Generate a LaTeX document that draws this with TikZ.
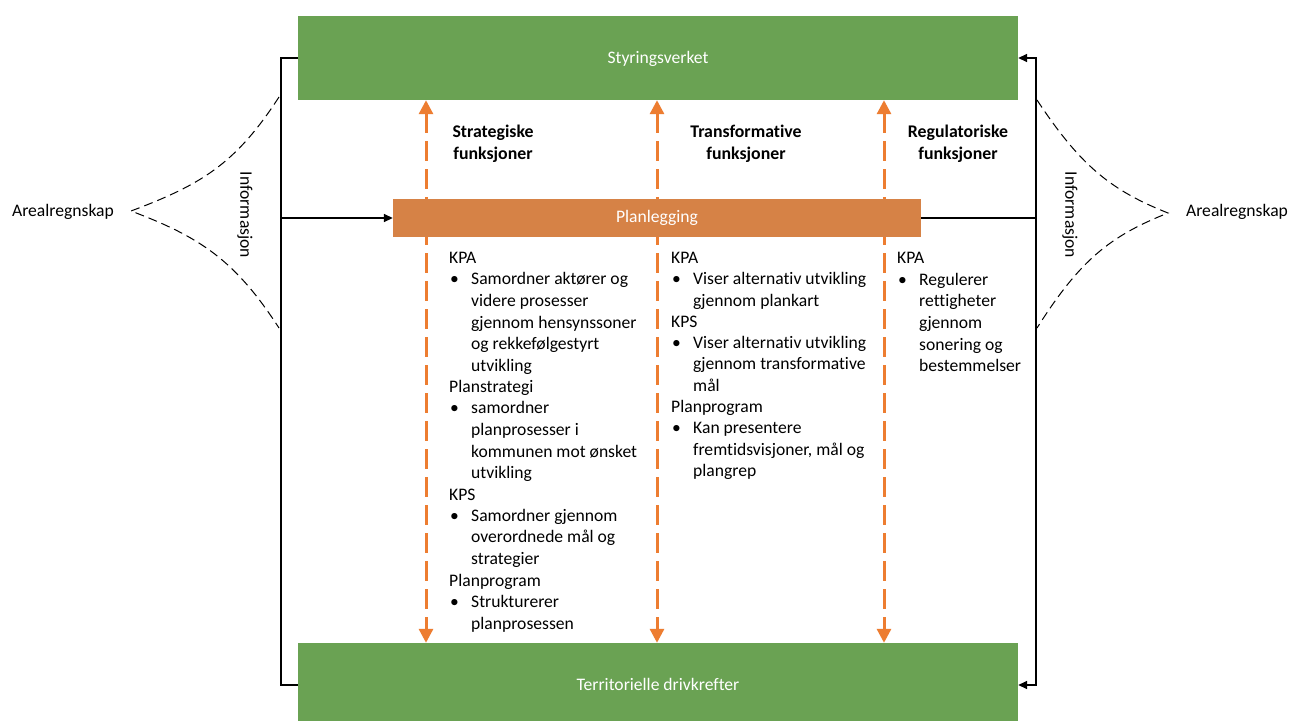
\documentclass[tikz,border=0pt]{standalone}
\usepackage{fontspec}
\setmainfont{Carlito}[Ligatures=NoCommon]
\usetikzlibrary{arrows.meta}
\definecolor{grn}{RGB}{106,162,83}
\definecolor{org}{RGB}{214,130,70}
\definecolor{orgline}{RGB}{237,125,49}
\newcommand{\bit}[1]{\makebox[22pt][l]{\hspace*{1pt}\textbullet}#1}
\newcommand{\cnt}[1]{\hspace*{22pt}#1}
\newcommand{\tightls}{\lineskiplimit=-100pt\relax}
\tikzset{
  greenbox/.style={fill=grn, draw=none, minimum width=720pt, minimum height=84pt, text=white, font=\fontsize{17.6}{20}\selectfont, inner sep=0pt, text height=12pt, text depth=2pt},
  orangebox/.style={fill=org, draw=none, minimum width=528pt, minimum height=38pt, text=white, font=\fontsize{17.6}{20}\selectfont, inner sep=0pt},
  orangearrow/.style={draw=orgline, line width=3pt, dash pattern=on 20pt off 8pt, {Triangle[width=14pt,length=14pt]}-{Triangle[width=14pt,length=14pt]}},
  blackline/.style={draw=black, line width=1.6pt},
  blackarrow/.style={blackline, -{Triangle[width=8pt,length=9pt]}},
  infocurve/.style={draw=black, line width=1pt, dash pattern=on 9pt off 5pt},
  header/.style={font=\bfseries\fontsize{17.8}{22}\selectfont\tightls, align=center},
  label/.style={font=\fontsize{17.6}{20}\selectfont},
  coltext/.style={align=left, anchor=north west, inner sep=0pt}
}
\begin{document}
\begin{tikzpicture}[x=1pt,y=-1pt]
\useasboundingbox (0,0) rectangle (1290,720);
\fill[white] (0,0) rectangle (1290,720);
% coordinates for the dashed orange connectors
\coordinate (c1) at (426,0);
\coordinate (c2) at (657,0);
\coordinate (c3) at (884,0);
% main boxes
\node[greenbox] (top) at (658,58) {Styringsverket};
\node[greenbox] (bot) at (658,685) {Territorielle drivkrefter};
% orange arrows behind planlegging
\draw[orangearrow] (top.south -| c1) -- (bot.north -| c1);
\draw[orangearrow] (top.south -| c2) -- (bot.north -| c2);
\draw[orangearrow] (top.south -| c3) -- (bot.north -| c3);
\node[orangebox] (plan) at (657,218) {Planlegging};
% headers
\node[header] (h1) at (493,144) {Strategiske\\funksjoner};
\node[header] (h2) at (746,144) {Transformative\\funksjoner};
\node[header] (h3) at (958,144) {Regulatoriske\\funksjoner};
% black feedback lines
\coordinate (L) at (281,218);
\coordinate (R) at (1036,218);
\draw[blackline] (top.west) -| (L) |- (bot.west);
\draw[blackarrow] (L) -- (plan.west);
\draw[blackline] (plan.east) -- (R);
\draw[blackarrow] (R) |- (top.east);
\draw[blackarrow] (R) |- (bot.east);
% informasjon labels
\node[label, rotate=-90] (infoL) at (245,215) {Informasjon};
\node[label, rotate=-90] (infoR) at (1070,215) {Informasjon};
% arealregnskap
\node[label] (arL) at (63,212) {Arealregnskap};
\node[label] (arR) at (1237,212) {Arealregnskap};
% dashed curves
\draw[infocurve] (279,97) .. controls (235,165) and (200,185) .. (131,211) .. controls (200,237) and (235,260) .. (279,328);
\draw[infocurve] (1037,100) .. controls (1080,165) and (1110,190) .. (1168,213) .. controls (1110,236) and (1080,260) .. (1037,328);
% column texts
\node[coltext, font=\fontsize{17.6}{21.5}\selectfont\tightls] (t1) at (449,252) {KPA\\
\bit{Samordner aktører og}\\
\cnt{videre prosesser}\\
\cnt{gjennom hensynssoner}\\
\cnt{og rekkefølgestyrt}\\
\cnt{utvikling}\\
Planstrategi\\
\bit{samordner}\\
\cnt{planprosesser i}\\
\cnt{kommunen mot ønsket}\\
\cnt{utvikling}\\
KPS\\
\bit{Samordner gjennom}\\
\cnt{overordnede mål og}\\
\cnt{strategier}\\
Planprogram\\
\bit{Strukturerer}\\
\cnt{planprosessen}};
\node[coltext, font=\fontsize{17.6}{21.3}\selectfont\tightls] (t2) at (671,252) {KPA\\
\bit{Viser alternativ utvikling}\\
\cnt{gjennom plankart}\\
KPS\\
\bit{Viser alternativ utvikling}\\
\cnt{gjennom transformative}\\
\cnt{mål}\\
Planprogram\\
\bit{Kan presentere}\\
\cnt{fremtidsvisjoner, mål og}\\
\cnt{plangrep}};
\node[coltext, font=\fontsize{17.6}{21.7}\selectfont\tightls] (t3) at (897,252) {KPA\\
\bit{Regulerer}\\
\cnt{rettigheter}\\
\cnt{gjennom}\\
\cnt{sonering og}\\
\cnt{bestemmelser}};
\end{tikzpicture}
\end{document}
